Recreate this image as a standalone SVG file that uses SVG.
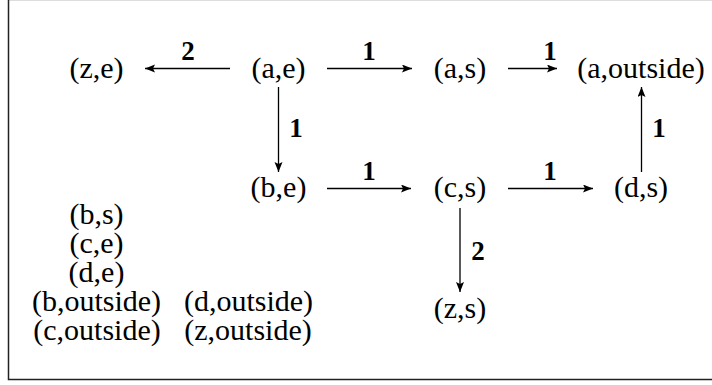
<svg xmlns="http://www.w3.org/2000/svg" width="712" height="385" viewBox="0 0 712 385">
<style>
.n{font-family:"Liberation Serif","Times New Roman",serif;font-size:30px;fill:#000;text-anchor:middle}
.l{font-family:"Liberation Serif","Times New Roman",serif;font-size:27px;font-weight:bold;fill:#000;text-anchor:middle}
.e{stroke:#000;stroke-width:1.3;fill:none;marker-end:url(#ah)}
</style>
<defs>
<marker id="ah" markerUnits="userSpaceOnUse" markerWidth="12" markerHeight="10" refX="10" refY="4" orient="auto">
<path d="M0,0 L10,4 L0,8 L2,4 Z" fill="#000"/>
</marker>
</defs>
<rect width="712" height="385" fill="#fff"/>
<path d="M9,0.5 H712" stroke="#ddd" stroke-width="1"/>
<path d="M8.5,0 V379.5 H712" stroke="#222" stroke-width="1.5" fill="none"/>
<g id="connectors">
<path class="e" d="M230,68.5 H145"/>
<path class="e" d="M327,68.5 H412"/>
<path class="e" d="M508,68.5 H557"/>
<path class="e" d="M278.5,87 V172"/>
<path class="e" d="M327,188.5 H411"/>
<path class="e" d="M508,188.5 H593"/>
<path class="e" d="M641.5,172 V87"/>
<path class="e" d="M460,208 V292"/>
<text class="l" x="188" y="60">2</text>
<text class="l" x="369" y="60">1</text>
<text class="l" x="550" y="60">1</text>
<text class="l" x="296" y="137">1</text>
<text class="l" x="369" y="180">1</text>
<text class="l" x="550" y="180">1</text>
<text class="l" x="659" y="137">1</text>
<text class="l" x="478" y="260">2</text>
</g>
<g id="ze"><text class="n" x="96.5" y="78">(z,e)</text></g>
<g id="ae"><text class="n" x="278.5" y="78">(a,e)</text></g>
<g id="as"><text class="n" x="460" y="78">(a,s)</text></g>
<g id="aoutside"><text class="n" x="641" y="78">(a,outside)</text></g>
<g id="be"><text class="n" x="278.5" y="197">(b,e)</text></g>
<g id="cs"><text class="n" x="460" y="197">(c,s)</text></g>
<g id="ds"><text class="n" x="641" y="197">(d,s)</text></g>
<g id="zs"><text class="n" x="460" y="318">(z,s)</text></g>
<g id="bs"><text class="n" x="96.5" y="224">(b,s)</text></g>
<g id="ce"><text class="n" x="96.5" y="253">(c,e)</text></g>
<g id="de"><text class="n" x="96.5" y="282">(d,e)</text></g>
<g id="boutside"><text class="n" x="96.5" y="311">(b,outside)</text></g>
<g id="coutside"><text class="n" x="97" y="340">(c,outside)</text></g>
<g id="doutside"><text class="n" x="248.5" y="311">(d,outside)</text></g>
<g id="zoutside"><text class="n" x="248" y="340">(z,outside)</text></g>
</svg>
